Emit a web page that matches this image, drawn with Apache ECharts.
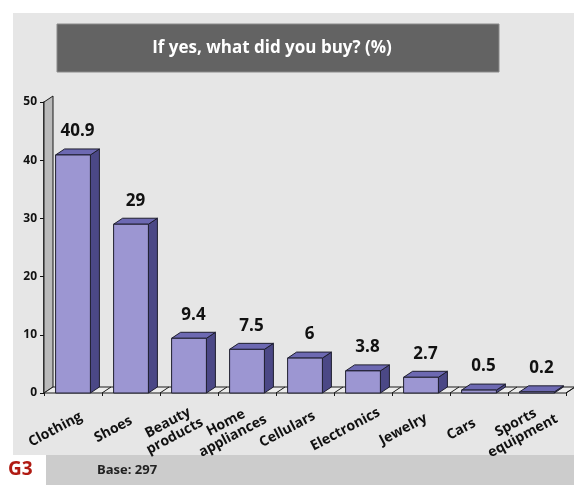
<!DOCTYPE html>
<html>
<head>
<meta charset="utf-8">
<script src="https://cdn.jsdelivr.net/npm/echarts@6/dist/echarts.min.js"></script>
<style>
  html, body { margin: 0; padding: 0; background: #ffffff; }
  #chart { width: 574px; height: 485px; }
</style>
</head>
<body>
<div id="chart"></div>
<script>
// Purchase categories and shares (%)
const categories = ['Clothing', 'Shoes', 'Beauty\nproducts', 'Home\nappliances', 'Cellulars', 'Electronics', 'Jewelry', 'Cars', 'Sports\nequipment'];
const shares = [40.9, 29, 9.4, 7.5, 6, 3.8, 2.7, 0.5, 0.2];
const yTicks = [0, 10, 20, 30, 40, 50];

const titleText = 'If yes, what did you buy? (%)';
const chartCode = 'G3';
const baseText = 'Base: 297';

const FONT = '"Open Sans", "DejaVu Sans", sans-serif';
const DEPTH_X = 9, DEPTH_Y = 6;
const FRONT = '#9c96d2', SIDE = '#4b4886', TOP = '#6d69b2', EDGE = '#1e1e2e';

const chart = echarts.init(document.getElementById('chart'), null, { renderer: 'canvas' });

// 3D box for each category: front face, right side and top
function renderBar(params, api) {
  const idx = api.value(0);
  const v = api.value(1);
  const top = api.coord([idx, v]);
  const base = api.coord([idx, 0]);
  const w = api.size([1, 0])[0] * 0.6;
  const l = top[0] - w / 2, r = top[0] + w / 2;
  const t = top[1], b = base[1];
  return {
    type: 'group',
    children: [
      { type: 'polygon', shape: { points: [[r, t], [r + DEPTH_X, t - DEPTH_Y], [r + DEPTH_X, b - DEPTH_Y], [r, b]] },
        style: { fill: SIDE, stroke: EDGE, lineWidth: 1 } },
      { type: 'polygon', shape: { points: [[l, t], [l + DEPTH_X, t - DEPTH_Y], [r + DEPTH_X, t - DEPTH_Y], [r, t]] },
        style: { fill: TOP, stroke: EDGE, lineWidth: 1 } },
      { type: 'rect', shape: { x: l, y: t, width: w, height: b - t },
        style: { fill: FRONT, stroke: EDGE, lineWidth: 1 } },
      { type: 'text', x: top[0] + DEPTH_X / 2, y: t - DEPTH_Y - 9,
        style: { text: String(v), fill: '#111', font: 'bold 17px ' + FONT, align: 'center', verticalAlign: 'bottom' } }
    ]
  };
}

// Back wall on the left and floor along the bottom
function renderFrame(params, api) {
  const cs = params.coordSys;
  const x0 = cs.x, x1 = cs.x + cs.width;
  const yTop = api.coord([0, 50])[1], yBot = api.coord([0, 0])[1];
  const children = [
    { type: 'polygon', shape: { points: [[x0, yTop], [x0 + DEPTH_X, yTop - DEPTH_Y], [x0 + DEPTH_X, yBot - DEPTH_Y], [x0, yBot]] },
      style: { fill: '#bababa', stroke: '#1a1a1a', lineWidth: 1 } },
    { type: 'polygon', shape: { points: [[x0, yBot], [x0 + DEPTH_X, yBot - DEPTH_Y], [x1 + DEPTH_X, yBot - DEPTH_Y], [x1, yBot]] },
      style: { fill: '#ececec', stroke: '#1a1a1a', lineWidth: 1 } }
  ];
  const step = cs.width / categories.length;
  for (let i = 1; i <= categories.length; i++) {
    const x = x0 + step * i;
    children.push({ type: 'line', shape: { x1: x, y1: yBot, x2: x + DEPTH_X, y2: yBot - DEPTH_Y },
      style: { stroke: '#1a1a1a', lineWidth: 1 } });
  }
  return { type: 'group', children };
}

chart.setOption({
  animation: false,
  backgroundColor: '#ffffff',
  textStyle: { fontFamily: FONT },
  graphic: [
    { type: 'rect', z: -10, shape: { x: 13, y: 13, width: 561, height: 442 }, style: { fill: '#e6e6e6' } },
    { type: 'rect', z: -10, shape: { x: 46, y: 455, width: 528, height: 30 }, style: { fill: '#cccccc' } },
    { type: 'rect', shape: { x: 57, y: 24, width: 442, height: 48 }, style: { fill: '#636363', stroke: '#8a8a8a', lineWidth: 1 } },
    { type: 'text', x: 272, y: 48, style: { text: titleText, fill: '#ffffff', font: 'bold 17px ' + FONT, align: 'center', verticalAlign: 'middle' } },
    { type: 'text', x: 8, y: 470, style: { text: chartCode, fill: '#b01a12', font: 'bold 19px ' + FONT, align: 'left', verticalAlign: 'middle' } },
    { type: 'text', x: 97, y: 470, style: { text: baseText, fill: '#222222', font: 'bold 13px ' + FONT, align: 'left', verticalAlign: 'middle' } }
  ],
  grid: { left: 44, right: 8, top: 102, bottom: 92, containLabel: false, outerBoundsMode: 'none' },
  xAxis: {
    type: 'category',
    data: categories,
    axisLine: { show: false },
    axisTick: { show: true, length: 3, lineStyle: { color: '#1a1a1a' } },
    axisLabel: { rotate: 28, interval: 0, margin: 27, align: 'center', verticalAlign: 'middle',
      padding: [0, 40, 0, 0], hideOverlap: false,
      color: '#111', fontWeight: 'bold', fontSize: 14, fontFamily: FONT, lineHeight: 15 },
    splitLine: { show: false }
  },
  yAxis: {
    type: 'value',
    min: 0, max: 50, interval: 10,
    axisLine: { show: true, lineStyle: { color: '#111', width: 1.5 } },
    axisTick: { show: true, length: 4, lineStyle: { color: '#111' } },
    axisLabel: { color: '#111', fontSize: 12, fontWeight: 'bold', margin: 7, fontFamily: FONT,
      formatter: v => yTicks.includes(v) ? String(v) : '' },
    splitLine: { show: false }
  },
  series: [
    { type: 'custom', z: 1, renderItem: renderFrame, data: [[0, 0]], silent: true },
    { type: 'custom', z: 2, renderItem: renderBar, data: shares.map((v, i) => [i, v]), clip: false }
  ]
});
</script>
</body>
</html>
